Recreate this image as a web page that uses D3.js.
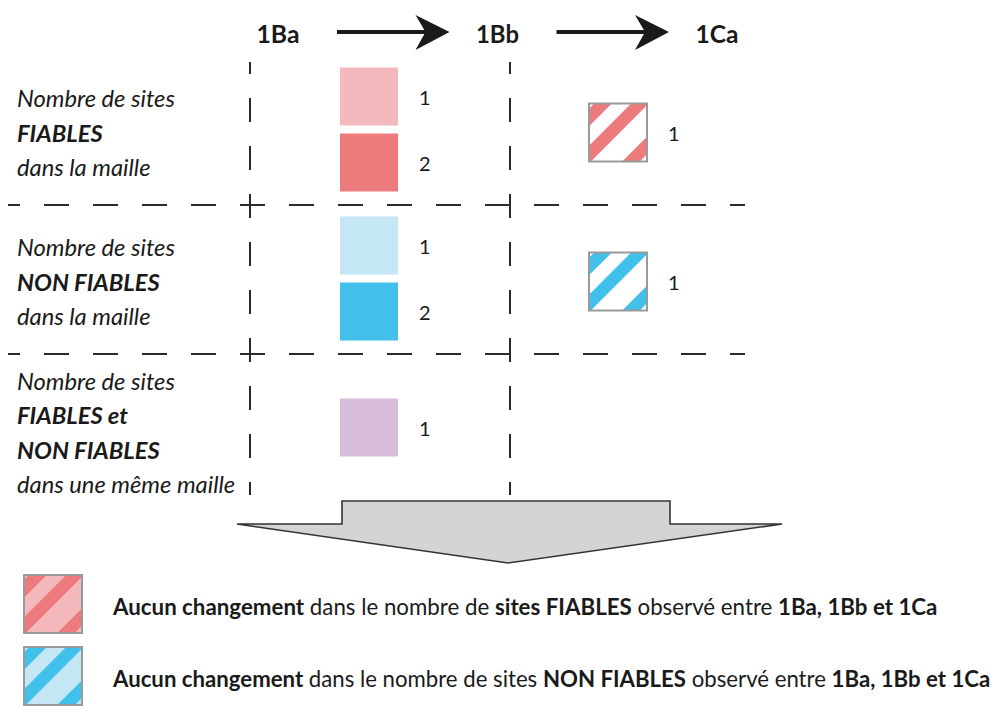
<!DOCTYPE html>
<html><head><meta charset="utf-8">
<script src="https://cdn.jsdelivr.net/npm/d3@7"></script>
<style>html,body{margin:0;padding:0;background:#fff}svg{display:block}</style>
</head><body>
<svg id="chart" width="1001" height="708"></svg>
<script>
// ---------- data ----------
const stages = ["1Ba", "1Bb", "1Ca"];
const transitions = ["1Ba→1Bb", "1Bb→1Ca"];
const rowCats = ["FIABLES", "NON FIABLES", "FIABLES et NON FIABLES"];
const rowLabels = [
  [[{t:"Nombre de sites"}], [{t:"FIABLES", b:true}], [{t:"dans la maille"}]],
  [[{t:"Nombre de sites"}], [{t:"NON FIABLES", b:true}], [{t:"dans la maille"}]],
  [[{t:"Nombre de sites"}], [{t:"FIABLES et", b:true}], [{t:"NON FIABLES", b:true}], [{t:"dans une même maille"}]]
];
const cellRow        = ["FIABLES","FIABLES","FIABLES","NON FIABLES","NON FIABLES","NON FIABLES","FIABLES et NON FIABLES"];
const cellTransition = ["1Ba→1Bb","1Ba→1Bb","1Bb→1Ca","1Ba→1Bb","1Ba→1Bb","1Bb→1Ca","1Ba→1Bb"];
const cellCount      = [1, 2, 1, 1, 2, 1, 1];
const cellKind       = ["light","dark","hatch","light","dark","hatch","light"];
const legendLines = [
  [{t:"Aucun changement", b:true},{t:" dans le nombre de "},{t:"sites FIABLES", b:true},{t:" observé entre "},{t:"1Ba, 1Bb et 1Ca", b:true}],
  [{t:"Aucun changement", b:true},{t:" dans le nombre de sites "},{t:"NON FIABLES", b:true},{t:" observé entre "},{t:"1Ba, 1Bb et 1Ca", b:true}]
];
const legendRow = ["FIABLES", "NON FIABLES"];

// ---------- styles ----------
const palette = {
  "FIABLES": {light:"#f4b9bc", dark:"#ed7b7e"},
  "NON FIABLES": {light:"#c4e6f5", dark:"#41c0ea"},
  "FIABLES et NON FIABLES": {light:"#d7bdd9", dark:"#d7bdd9"}
};
const FONT = "Lato, 'Noto Sans', sans-serif";
const ink = "#1a1a1a";
const SQ = 58;

const svg = d3.select("#chart");
const defs = svg.append("defs");

function fit(sel, target) {
  const fs = +sel.attr("font-size");
  const w = sel.node().getComputedTextLength();
  sel.attr("font-size", fs * target / w);
  return fs * target / w;
}

// ---------- scales ----------
const xStage = d3.scalePoint().domain(stages).range([278, 717]);
const xTrans = d3.scalePoint().domain(transitions).range([369, 618]);
const yRow = d3.scaleBand().domain(rowCats).range([55, 502]);
const rowCenter = r => yRow(r) + yRow.bandwidth() / 2;

// ---------- header ----------
const header = svg.append("g");
stages.forEach(s => {
  const t = header.append("text").attr("x", xStage(s)).attr("y", 33)
    .attr("text-anchor", "middle").attr("dominant-baseline", "central")
    .attr("font-family", FONT).attr("font-weight", 700).attr("font-size", 22)
    .attr("fill", ink).text(s);
  fit(t, 43);
});
for (let i = 0; i < stages.length - 1; i++) {
  const x0 = xStage(stages[i]) + 59, x1 = xStage(stages[i + 1]) - 48, y = 32;
  header.append("line").attr("x1", x0).attr("x2", x1 - 20).attr("y1", y).attr("y2", y)
    .attr("stroke", ink).attr("stroke-width", 4);
  header.append("path")
    .attr("d", `M${x1},${y} L${x1 - 34},${y - 17} L${x1 - 24},${y} L${x1 - 34},${y + 18} Z`)
    .attr("fill", ink);
}

// ---------- grid dashes ----------
const grid = svg.append("g").attr("stroke", "#2b2b2b").attr("stroke-width", 2);
[250, 510].forEach(x => {
  grid.append("line").attr("x1", x).attr("x2", x).attr("y1", 62).attr("y2", 495)
    .attr("stroke-dasharray", "24 24").attr("stroke-dashoffset", 12);
});
rowCats.slice(0, -1).forEach(r => {
  const y = yRow(r) + yRow.bandwidth() + 1;
  grid.append("line").attr("x1", 8).attr("x2", 745).attr("y1", y).attr("y2", y)
    .attr("stroke-dasharray", "25 24").attr("stroke-dashoffset", 13);
});

// ---------- row labels ----------
const labels = svg.append("g");
// calibrate label font size on the first line
const probe = labels.append("text").attr("font-family", FONT).attr("font-style", "italic")
  .attr("font-size", 20).text("Nombre de sites");
const labelFs = fit(probe, 158);
probe.remove();
rowCats.forEach((r, ri) => {
  const lines = rowLabels[ri];
  const cy = rowCenter(r) + (ri === 2 ? 5 : 3);
  lines.forEach((parts, li) => {
    const t = labels.append("text").attr("x", 17)
      .attr("y", cy + (li - (lines.length - 1) / 2) * 34.5)
      .attr("dominant-baseline", "central")
      .attr("font-family", FONT).attr("font-style", "italic").attr("font-size", labelFs).attr("fill", ink);
    parts.forEach(p => t.append("tspan").attr("font-weight", p.b ? 700 : 400).text(p.t));
  });
});

// ---------- hatched square helper ----------
let clipId = 0;
function hatch(g, x0, y0, size, bg, stripe, border) {
  const id = "clip" + (clipId++);
  defs.append("clipPath").attr("id", id).append("rect")
    .attr("x", x0).attr("y", y0).attr("width", size).attr("height", size);
  g.append("rect").attr("x", x0).attr("y", y0).attr("width", size).attr("height", size).attr("fill", bg);
  const sg = g.append("g").attr("clip-path", `url(#${id})`);
  [14, 51, 100].forEach(c => {
    sg.append("line")
      .attr("x1", x0 + c + 30).attr("y1", y0 - 30)
      .attr("x2", x0 + c - 90).attr("y2", y0 + 90)
      .attr("stroke", stripe).attr("stroke-width", 12.5);
  });
  g.append("rect").attr("x", x0).attr("y", y0).attr("width", size).attr("height", size)
    .attr("fill", "none").attr("stroke", border).attr("stroke-width", 2);
}

// ---------- cells ----------
const cells = cellRow.map((r, i) => ({row: r, tr: cellTransition[i], count: cellCount[i], kind: cellKind[i]}));
const groups = d3.group(cells, d => d.row + "|" + d.tr);
const marks = svg.append("g");
groups.forEach(list => {
  const n = list.length;
  list.forEach((d, i) => {
    const cx = xTrans(d.tr);
    const cy = rowCenter(d.row) + (i - (n - 1) / 2) * 66 + (d.kind === "hatch" ? 3 : 0);
    const x0 = cx - SQ / 2, y0 = cy - SQ / 2;
    if (d.kind === "hatch") {
      hatch(marks, x0, y0, SQ, "#ffffff", palette[d.row].dark, "#9a9a9a");
    } else {
      marks.append("rect").attr("x", x0).attr("y", y0).attr("width", SQ).attr("height", SQ)
        .attr("fill", palette[d.row][d.kind]);
    }
    marks.append("text").attr("x", x0 + SQ + 21).attr("y", cy)
      .attr("dominant-baseline", "central")
      .attr("font-family", FONT).attr("font-size", 20).attr("fill", ink).text(d.count);
  });
});

// ---------- big arrow ----------
svg.append("path")
  .attr("d", "M342,501 L670,501 L670,524 L782,524 L508,563 L237,524 L342,524 Z")
  .attr("fill", "#d4d4d4").attr("stroke", "#333").attr("stroke-width", 1.6).attr("stroke-linejoin", "miter");

// ---------- legend ----------
const leg = svg.append("g");
const legendY = [604, 676];
const legendW = [825, 878];
legendLines.forEach((parts, i) => {
  const r = legendRow[i];
  hatch(leg, 24, legendY[i] - 29, SQ, palette[r].light, palette[r].dark, "#9a9a9a");
  const t = leg.append("text").attr("x", 113).attr("y", legendY[i] + 2)
    .attr("dominant-baseline", "central")
    .attr("font-family", FONT).attr("font-size", 18).attr("fill", ink);
  parts.forEach(p => t.append("tspan").attr("font-weight", p.b ? 700 : 400).text(p.t));
  fit(t, legendW[i]);
});
</script>
</body></html>
